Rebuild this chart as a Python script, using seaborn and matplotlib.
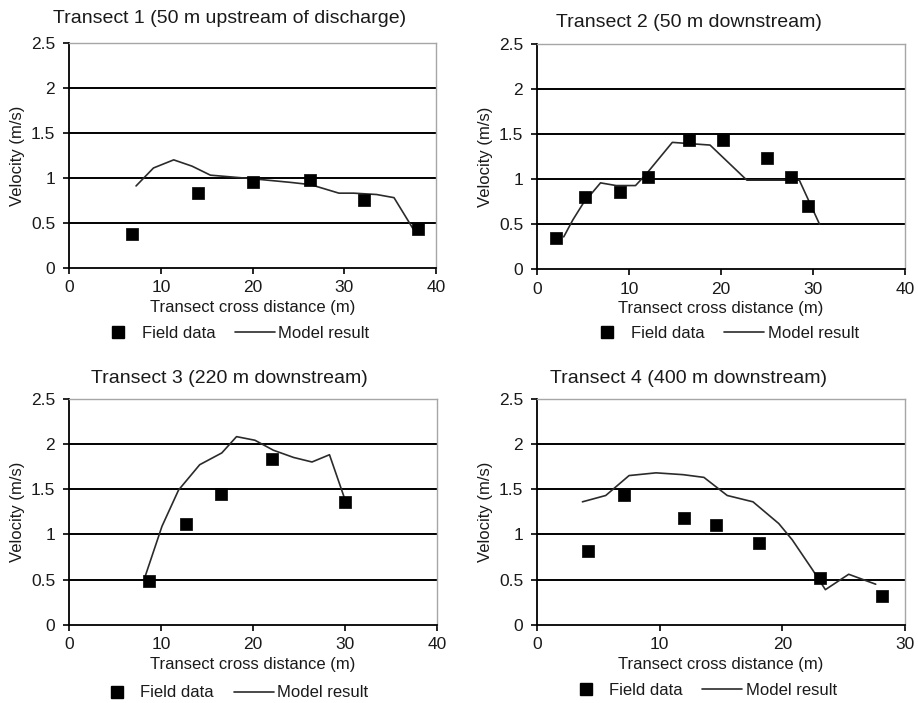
import matplotlib
matplotlib.use("Agg")
import matplotlib.pyplot as plt
from matplotlib.lines import Line2D
import seaborn as sns
import pandas as pd

# ---- Field measurements and model output for each transect ----
titles = [
    "Transect 1 (50 m upstream of discharge)",
    "Transect 2 (50 m downstream)",
    "Transect 3 (220 m downstream)",
    "Transect 4 (400 m downstream)",
]

field_x1 = [6.9, 14.0, 20.0, 26.2, 32.1, 38.0]
field_v1 = [0.38, 0.83, 0.95, 0.98, 0.75, 0.43]
model_x1 = [7.3, 9.2, 11.4, 13.4, 15.4, 20.0, 24.1, 26.3, 29.4, 31.0, 33.5, 35.4, 37.5]
model_v1 = [0.91, 1.11, 1.20, 1.13, 1.03, 0.99, 0.95, 0.925, 0.83, 0.83, 0.815, 0.78, 0.43]

field_x2 = [2.1, 5.2, 9.0, 12.1, 16.5, 20.2, 25.0, 27.6, 29.4]
field_v2 = [0.35, 0.80, 0.86, 1.03, 1.44, 1.44, 1.24, 1.03, 0.70]
model_x2 = [2.9, 3.9, 5.0, 6.9, 8.6, 10.7, 11.8, 14.7, 18.8, 22.8, 28.5, 30.7]
model_v2 = [0.36, 0.55, 0.73, 0.96, 0.93, 0.93, 1.05, 1.41, 1.38, 0.99, 0.99, 0.50]

field_x3 = [8.7, 12.7, 16.5, 22.1, 30.0]
field_v3 = [0.49, 1.11, 1.45, 1.83, 1.36]
model_x3 = [8.25, 10.1, 11.9, 14.2, 16.6, 18.2, 20.2, 22.2, 24.4, 26.4, 28.3, 30.0]
model_v3 = [0.53, 1.09, 1.49, 1.77, 1.90, 2.08, 2.04, 1.93, 1.85, 1.80, 1.88, 1.38]

field_x4 = [4.15, 7.1, 11.95, 14.6, 18.1, 23.1, 28.1]
field_v4 = [0.82, 1.44, 1.18, 1.10, 0.91, 0.52, 0.32]
model_x4 = [3.7, 5.6, 7.5, 9.7, 11.9, 13.6, 15.5, 17.6, 19.7, 20.8, 22.45, 23.5, 25.4, 27.6]
model_v4 = [1.36, 1.43, 1.65, 1.68, 1.66, 1.63, 1.43, 1.36, 1.12, 0.94, 0.61, 0.39, 0.56, 0.45]

x_limits = [40, 40, 40, 30]
y_ticks = [0, 0.5, 1, 1.5, 2, 2.5]
y_tick_labels = ["0", "0.5", "1", "1.5", "2", "2.5"]

field_sets = [(field_x1, field_v1), (field_x2, field_v2), (field_x3, field_v3), (field_x4, field_v4)]
model_sets = [(model_x1, model_v1), (model_x2, model_v2), (model_x3, model_v3), (model_x4, model_v4)]

sns.set_theme(style="white")
plt.rcParams["font.family"] = ["Liberation Sans", "DejaVu Sans"]

fig = plt.figure(figsize=(9.18, 7.03), dpi=100)

# axes rectangles [left, bottom, width, height] in figure fraction
rects = [
    [0.0752, 0.619, 0.400, 0.320],
    [0.585, 0.617, 0.401, 0.320],
    [0.0752, 0.111, 0.401, 0.322],
    [0.585, 0.111, 0.401, 0.322],
]
title_pos = [(0.25, 0.974), (0.75, 0.968), (0.25, 0.461), (0.75, 0.462)]
legend_pos = [(0.449, -0.29), (0.505, -0.285), (0.444, -0.30), (0.446, -0.29)]

for i in range(4):
    ax = fig.add_axes(rects[i])
    fx, fv = field_sets[i]
    mx, mv = model_sets[i]
    df_f = pd.DataFrame({"x": fx, "v": fv})
    df_m = pd.DataFrame({"x": mx, "v": mv})

    # horizontal gridlines
    for yv in y_ticks[1:-1]:
        ax.axhline(yv, color="black", lw=1.4, zorder=1)

    sns.lineplot(data=df_m, x="x", y="v", ax=ax, color="#2b2b2b", lw=1.2,
                 sort=False, estimator=None, zorder=3, legend=False)
    sns.scatterplot(data=df_f, x="x", y="v", ax=ax, marker="s", s=72,
                    color="black", edgecolor="black", linewidth=0.5,
                    zorder=4, legend=False)

    ax.set_xlim(0, x_limits[i])
    ax.set_ylim(0, 2.5)
    ax.set_xticks(range(0, x_limits[i] + 1, 10))
    ax.set_yticks(y_ticks)
    ax.set_yticklabels(y_tick_labels)

    for side in ["top", "right"]:
        ax.spines[side].set_color("#a6a6a6")
        ax.spines[side].set_linewidth(1.0)
    for side in ["left", "bottom"]:
        ax.spines[side].set_color("black")
        ax.spines[side].set_linewidth(1.3)

    ax.tick_params(axis="both", which="major", direction="out", length=4,
                   width=1.2, color="black", labelsize=12.5, labelcolor="#1a1a1a",
                   bottom=True, left=True)
    ax.tick_params(axis="y", pad=6)
    ax.tick_params(axis="x", pad=5)

    ax.set_xlabel("Transect cross distance (m)", fontsize=12, color="#1a1a1a", labelpad=3)
    ax.set_ylabel("Velocity (m/s)", fontsize=12, color="#1a1a1a", labelpad=4)

    fig.text(title_pos[i][0], title_pos[i][1], titles[i], ha="center", va="center",
             fontsize=14, color="#1a1a1a")

    handles = [
        Line2D([], [], marker="s", ls="none", color="black", markersize=8.5),
        Line2D([], [], color="#2b2b2b", lw=1.2),
    ]
    ax.legend(handles, ["Field data", "Model result"], loc="center",
              bbox_to_anchor=legend_pos[i], ncol=2, frameon=False, fontsize=12,
              handlelength=2.4, handletextpad=0.2, columnspacing=1.2,
              labelcolor="#1a1a1a")

fig.savefig("out.png", dpi=100, facecolor="white")
